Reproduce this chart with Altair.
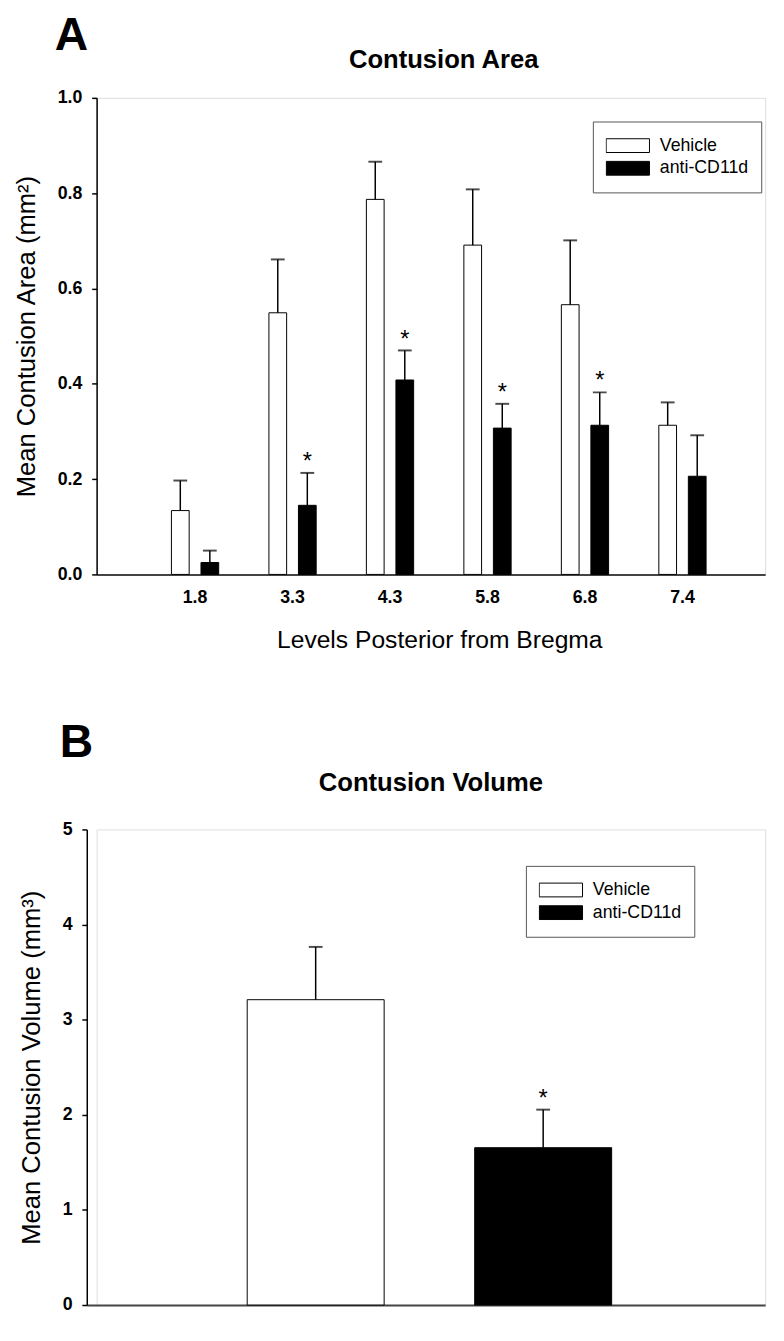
import altair as alt
import pandas as pd

FONT = "Liberation Sans"

# ---- data ----
levels = ["1.8", "3.3", "4.3", "5.8", "6.8", "7.4"]
groups = ["Vehicle", "anti-CD11d"]

vehicle_area = [0.134, 0.549, 0.787, 0.691, 0.566, 0.313]
vehicle_area_sem = [0.063, 0.112, 0.079, 0.117, 0.135, 0.048]
anti_area = [0.025, 0.145, 0.408, 0.307, 0.313, 0.206]
anti_area_sem = [0.025, 0.068, 0.062, 0.051, 0.069, 0.086]
area_significant = [False, True, True, True, True, False]

volume_mean = [3.21, 1.654]
volume_sem = [0.555, 0.40]
volume_significant = [False, True]

area_ticks = [0.0, 0.2, 0.4, 0.6, 0.8, 1.0]
volume_ticks = [0, 1, 2, 3, 4, 5]

# ---- tables ----
rows = []
for i, lv in enumerate(levels):
    rows.append(dict(level=lv, group=groups[0], mean=vehicle_area[i],
                     sem=vehicle_area_sem[i], star=""))
    rows.append(dict(level=lv, group=groups[1], mean=anti_area[i],
                     sem=anti_area_sem[i], star="*" if area_significant[i] else ""))
area_df = pd.DataFrame(rows)

vol_df = pd.DataFrame(dict(group=groups, mean=volume_mean, sem=volume_sem,
                           star=["*" if s else "" for s in volume_significant]))

color_scale = alt.Scale(domain=groups, range=["white", "black"])

legend_common = dict(
    title=None, orient="none", strokeColor="#555555", fillColor="white",
    padding=13, symbolType="M-1,-0.318L1,-0.318L1,0.318L-1,0.318Z",
    symbolSize=1936, symbolStrokeColor="black", symbolStrokeWidth=1,
    labelFont=FONT, labelFontSize=18, labelColor="black", labelOffset=10,
    rowPadding=0, clipHeight=23,
)

y_axis_common = dict(
    grid=False, domainColor="black", domainWidth=1.5, tickColor="black",
    tickSize=5, tickWidth=1.5, labelFont=FONT, labelFontSize=18,
    labelFontWeight="bold", labelColor="black", labelPadding=10,
    titleFont=FONT, titleFontSize=26, titleFontWeight="normal",
    titleColor="black", titlePadding=18,
)

# ---- panel A ----
area_title = "Mean Contusion Area (mm²)"
xA = alt.X("level:N", sort=levels,
           scale=alt.Scale(paddingInner=0, paddingOuter=0.4293, align=0.594),
           axis=alt.Axis(title="Levels Posterior from Bregma", labelAngle=0,
                         ticks=False, tickSize=0, labelPadding=15,
                         labelFont=FONT, labelFontSize=18, labelFontWeight="bold",
                         labelColor="black", titleFont=FONT, titleFontSize=25,
                         titleFontWeight="normal", titleColor="black",
                         titlePadding=21, titleX=348, domainColor="#444444",
                         domainWidth=2, grid=False))
xoffA = alt.XOffset("group:N", sort=groups,
                    scale=alt.Scale(paddingInner=0.4, paddingOuter=0.85))
yA_scale = alt.Scale(domain=[0, 1], nice=False)
yA_axis = alt.Axis(values=area_ticks, format=".1f", **y_axis_common)

baseA = alt.Chart(area_df).transform_calculate(
    upper="datum.mean + datum.sem"
).encode(x=xA, xOffset=xoffA)

barsA = baseA.mark_bar(stroke="black", strokeWidth=1).encode(
    y=alt.Y("mean:Q", scale=yA_scale, axis=yA_axis, title=area_title),
    color=alt.Color("group:N", scale=color_scale,
                    legend=alt.Legend(legendX=504, legendY=24, **legend_common)),
)
ruleA = baseA.mark_rule(color="black", strokeWidth=1.5).encode(
    y=alt.Y("mean:Q", title=area_title), y2="upper:Q")
capA = baseA.mark_tick(color="black", thickness=2, size=14, orient="horizontal").encode(
    y=alt.Y("upper:Q", title=area_title))
starA = baseA.mark_text(font=FONT, fontSize=24, dy=-4, baseline="alphabetic",
                        color="black").encode(
    y=alt.Y("upper:Q", title=area_title), text="star:N")

chartA = alt.layer(barsA, ruleA, capA, starA).properties(
    width=679, height=484,
    title=alt.Title("Contusion Area", font=FONT, fontSize=26, fontWeight="bold",
                    anchor="middle", frame="group", offset=16, dx=13, color="black"),
)

# ---- panel B ----
vol_title = "Mean Contusion Volume (mm³)"
xB = alt.X("group:N", sort=groups,
           scale=alt.Scale(range=[-10, 679], paddingInner=0.398,
                           paddingOuter=0.69, align=0.511),
           axis=alt.Axis(title=None, labels=False, ticks=False, tickSize=0,
                         domainColor="#444444", domainWidth=2, grid=False))
yB_scale = alt.Scale(domain=[0, 5], nice=False)
yB_axis = alt.Axis(values=volume_ticks, format="d", offset=10, **y_axis_common)

baseB = alt.Chart(vol_df).transform_calculate(
    upper="datum.mean + datum.sem"
).encode(x=xB)

barsB = baseB.mark_bar(stroke="black", strokeWidth=1).encode(
    y=alt.Y("mean:Q", scale=yB_scale, axis=yB_axis, title=vol_title),
    color=alt.Color("group:N", scale=color_scale,
                    legend=alt.Legend(legendX=436, legendY=37, **legend_common)),
)
ruleB = baseB.mark_rule(color="black", strokeWidth=1.5).encode(
    y=alt.Y("mean:Q", title=vol_title), y2="upper:Q")
capB = baseB.mark_tick(color="black", thickness=2, size=14, orient="horizontal").encode(
    y=alt.Y("upper:Q", title=vol_title))
starB = baseB.mark_text(font=FONT, fontSize=24, dy=-4, baseline="alphabetic",
                        color="black").encode(
    y=alt.Y("upper:Q", title=vol_title), text="star:N")

chartB = alt.layer(barsB, ruleB, capB, starB).properties(
    width=679, height=483,
    title=alt.Title("Contusion Volume", font=FONT, fontSize=26, fontWeight="bold",
                    anchor="middle", frame="group", offset=25, dx=0, color="black"),
)

panelA = alt.vconcat(chartA).properties(
    title=alt.Title("A", font=FONT, fontSize=47, fontWeight="bold", anchor="start",
                    dx=42, offset=-13, color="black"))
panelB = alt.vconcat(chartB).properties(
    title=alt.Title("B", font=FONT, fontSize=47, fontWeight="bold", anchor="start",
                    dx=42, offset=3, color="black"))

chart = alt.vconcat(panelA, panelB, spacing=67).resolve_scale(
    color="independent"
).properties(
    padding={"left": 5, "top": -6, "right": 0, "bottom": -2},
).configure_view(stroke=None).configure(background="white")

chart.save("out.html", embed_options={"renderer": "svg", "actions": False})
